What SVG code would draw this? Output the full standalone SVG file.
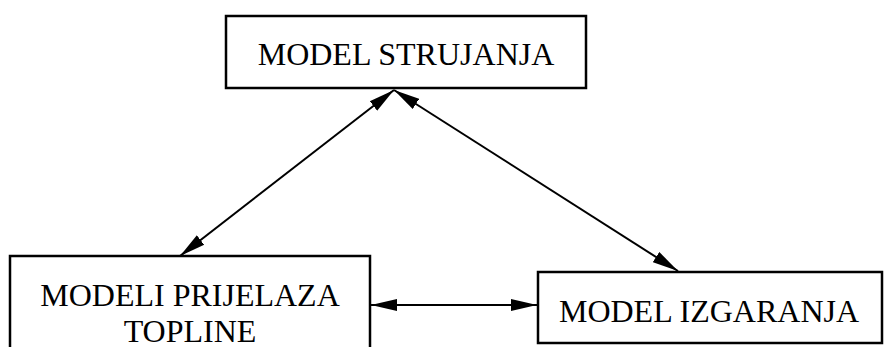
<svg xmlns="http://www.w3.org/2000/svg" width="885" height="347" viewBox="0 0 885 347">
<style>
.box{fill:#fff;stroke:#000;stroke-width:2.5}
.lbl{font-family:"Liberation Serif","Times New Roman",serif;font-size:32px;fill:#000;text-anchor:middle}
.con{stroke:#000;stroke-width:2;fill:none;marker-start:url(#ah);marker-end:url(#ah)}
</style>
<defs>
<marker id="ah" markerUnits="userSpaceOnUse" markerWidth="27" markerHeight="14" refX="26" refY="7" orient="auto-start-reverse" viewBox="0 0 27 14">
<path d="M0,1 L26,7 L0,13 z" fill="#000"/>
</marker>
</defs>
<g id="connectors">
<line class="con" x1="180" y1="256" x2="394" y2="90"/>
<line class="con" x1="394" y1="90" x2="678" y2="271"/>
<line class="con" x1="371" y1="305" x2="537" y2="305"/>
</g>
<g id="model-strujanja">
<rect class="box" x="226" y="16" width="360" height="72"/>
<text class="lbl" x="406" y="65">MODEL STRUJANJA</text>
</g>
<g id="modeli-prijelaza-topline">
<rect class="box" x="10" y="256" width="360" height="100"/>
<text class="lbl" x="190" y="306">MODELI PRIJELAZA</text>
<text class="lbl" x="190" y="342">TOPLINE</text>
</g>
<g id="model-izgaranja">
<rect class="box" x="538" y="272" width="344" height="71"/>
<text class="lbl" x="709" y="322">MODEL IZGARANJA</text>
</g>
</svg>
